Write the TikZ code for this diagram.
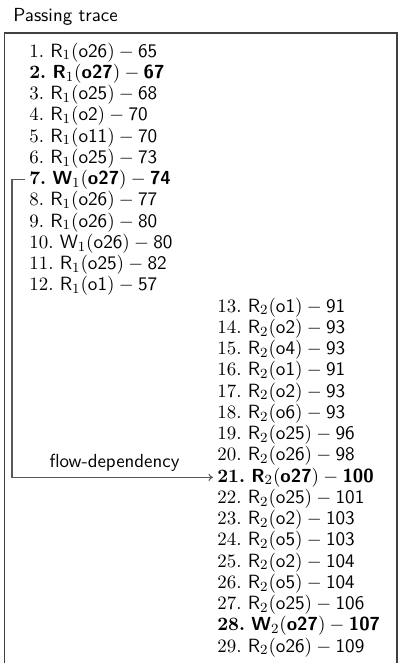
\documentclass[tikz,border=0pt]{standalone}
\usetikzlibrary{arrows.meta}
\newcommand\trn[5]{#1.\ $\mathsf{#2}_{#3}(\mathsf{#4})-\mathsf{#5}$}
\newcommand\trbold[5]{\textbf{#1.}\ $\textsf{\bfseries #2}_{#3}(\textsf{\bfseries #4})-\textsf{\bfseries #5}$}
\newcommand\picfont{\fontsize{10.8pt}{13pt}\selectfont}
\begin{document}
\begin{tikzpicture}[x=0.5714pt,y=-0.5714pt,
  item/.style={font=\picfont,anchor=base west,inner xsep=2.3pt,inner ysep=0pt,text height=8pt,text depth=2.7pt},
  frame/.style={draw=black!75,line width=0.6pt},
  flow/.style={draw=black!65,line width=0.6pt,-{To[length=2.6pt,width=4.2pt]}},
  lbl/.style={font=\picfont\sffamily,inner sep=0pt}]
\useasboundingbox (0,0) rectangle (400,663);
\node[lbl,anchor=base west] (title) at (13,21) {Passing trace};
\draw[frame] (4.5,664) -- (4.5,33) -- (397,33) -- (397,664);
% left column
\node[item] (n1)  at (25,57)     {\trn{1}{R}{1}{o26}{65}};
\node[item] (n2)  at (25,78.25)  {\trbold{2}{R}{1}{o27}{67}};
\node[item] (n3)  at (25,99.5)   {\trn{3}{R}{1}{o25}{68}};
\node[item] (n4)  at (25,120.75) {\trn{4}{R}{1}{o2}{70}};
\node[item] (n5)  at (25,142)    {\trn{5}{R}{1}{o11}{70}};
\node[item] (n6)  at (25,163.25) {\trn{6}{R}{1}{o25}{73}};
\node[item] (n7)  at (25,184.5)  {\trbold{7}{W}{1}{o27}{74}};
\node[item] (n8)  at (25,205.75) {\trn{8}{R}{1}{o26}{77}};
\node[item] (n9)  at (25,227)    {\trn{9}{R}{1}{o26}{80}};
\node[item] (n10) at (25,248.25) {\trn{10}{W}{1}{o26}{80}};
\node[item] (n11) at (25,269.5)  {\trn{11}{R}{1}{o25}{82}};
\node[item] (n12) at (25,290.75) {\trn{12}{R}{1}{o1}{57}};
% right column
\node[item] (n13) at (213,312)    {\trn{13}{R}{2}{o1}{91}};
\node[item] (n14) at (213,333.25) {\trn{14}{R}{2}{o2}{93}};
\node[item] (n15) at (213,354.5)  {\trn{15}{R}{2}{o4}{93}};
\node[item] (n16) at (213,375.75) {\trn{16}{R}{2}{o1}{91}};
\node[item] (n17) at (213,397)    {\trn{17}{R}{2}{o2}{93}};
\node[item] (n18) at (213,418.25) {\trn{18}{R}{2}{o6}{93}};
\node[item] (n19) at (213,439.5)  {\trn{19}{R}{2}{o25}{96}};
\node[item] (n20) at (213,460.75) {\trn{20}{R}{2}{o26}{98}};
\node[item] (n21) at (213,482)    {\trbold{21}{R}{2}{o27}{100}};
\node[item] (n22) at (213,503.25) {\trn{22}{R}{2}{o25}{101}};
\node[item] (n23) at (213,524.5)  {\trn{23}{R}{2}{o2}{103}};
\node[item] (n24) at (213,545.75) {\trn{24}{R}{2}{o5}{103}};
\node[item] (n25) at (213,567)    {\trn{25}{R}{2}{o2}{104}};
\node[item] (n26) at (213,588.25) {\trn{26}{R}{2}{o5}{104}};
\node[item] (n27) at (213,609.5)  {\trn{27}{R}{2}{o25}{106}};
\node[item] (n28) at (213,630.75) {\trbold{28}{W}{2}{o27}{107}};
\node[item] (n29) at (213,652)    {\trn{29}{R}{2}{o26}{109}};
% flow dependency
\draw[flow] (n7.west) -- ++(-13,0) |- (n21.west);
\node[lbl,anchor=base] (fd) at (114.5,467) {flow-dependency};
\end{tikzpicture}
\end{document}
